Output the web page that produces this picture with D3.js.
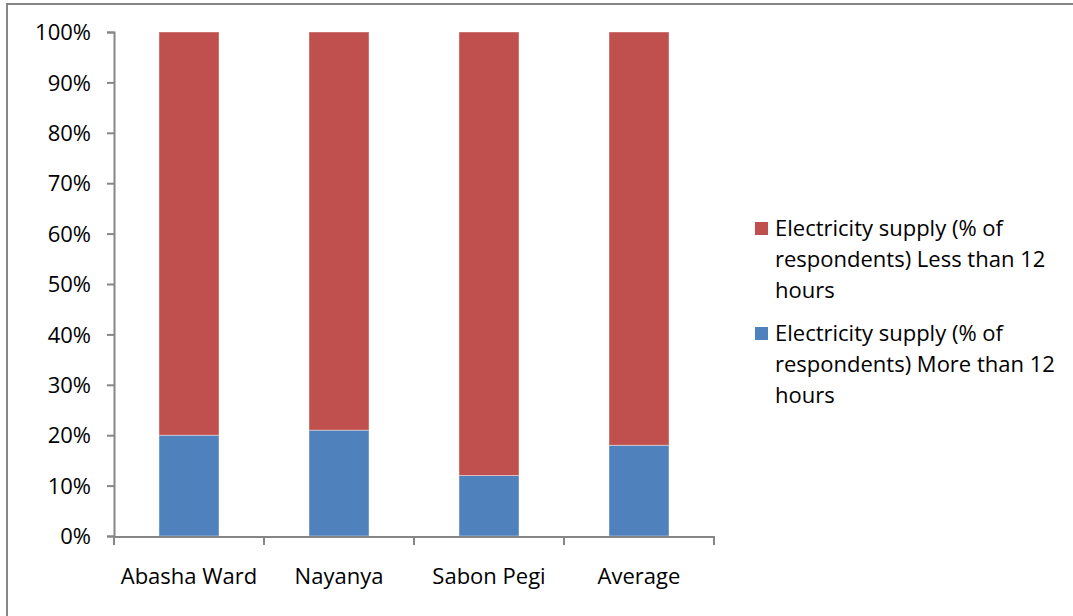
<!DOCTYPE html>
<html lang="en">
<head>
<meta charset="UTF-8">
<title>Electricity supply</title>
<script src="https://d3js.org/d3.v7.min.js"></script>
<style>
    body { margin: 0; background: #fff; }
    text { font-family: "Open Sans", "Noto Sans", sans-serif; fill: #000; }
    .axis path, .axis line { stroke: #868686; stroke-width: 2; }
    .axis text { font-size: 22px; }
    .legend text { font-size: 22px; }
</style>
</head>
<body>
<div id="chart"></div>
<script>
    // data
    const categories = ["Abasha Ward", "Nayanya", "Sabon Pegi", "Average"];
    const moreThan12 = [20, 21, 12, 18];
    const lessThan12 = [80, 79, 88, 82];
    const seriesNames = [
        ["Electricity supply (% of", "respondents) Less than 12", "hours"],
        ["Electricity supply (% of", "respondents) More than 12", "hours"]
    ];
    const seriesColors = ["#C0504D", "#4F81BD"];
    const yTicks = [0, 10, 20, 30, 40, 50, 60, 70, 80, 90, 100];

    const W = 1073, H = 616;
    const plot = { left: 114, right: 714, top: 32, bottom: 536 };

    const svg = d3.select("#chart").append("svg")
        .attr("width", W)
        .attr("height", H);

    // outer chart border (only top and left are inside the picture)
    svg.append("rect")
        .attr("x", 7).attr("y", 4)
        .attr("width", W + 20).attr("height", H + 20)
        .attr("fill", "none")
        .attr("stroke", "#878787")
        .attr("stroke-width", 2);

    const x = d3.scaleBand()
        .domain(categories)
        .range([plot.left, plot.right])
        .paddingInner(0.6)
        .paddingOuter(0.3);

    const y = d3.scaleLinear()
        .domain([0, 100])
        .range([plot.bottom, plot.top]);

    const rows = categories.map((c, i) => ({ cat: c, more: moreThan12[i], less: lessThan12[i] }));
    const stacked = d3.stack().keys(["more", "less"])(rows);

    svg.append("g")
        .selectAll("g")
        .data(stacked)
        .join("g")
        .attr("fill", d => d.key === "more" ? seriesColors[1] : seriesColors[0])
        .selectAll("rect")
        .data(d => d)
        .join("rect")
        .attr("x", d => x(d.data.cat))
        .attr("y", d => y(d[1]))
        .attr("width", x.bandwidth())
        .attr("height", d => y(d[0]) - y(d[1]))
        .attr("stroke", "#ffffff")
        .attr("stroke-opacity", 0.4)
        .attr("stroke-width", 1);

    // y axis
    const yAxis = svg.append("g")
        .attr("class", "axis")
        .attr("transform", `translate(${plot.left},0)`)
        .call(d3.axisLeft(y).tickValues(yTicks).tickFormat(d => d + "%").tickSize(7).tickSizeOuter(7).tickPadding(16));
    yAxis.selectAll("text").attr("dy", "0.35em");

    // x axis with ticks at category boundaries
    const step = x.step();
    const bounds = d3.range(categories.length + 1).map(i => plot.left + i * step);
    const xg = svg.append("g").attr("class", "axis");
    xg.append("line")
        .attr("x1", plot.left - 1).attr("x2", plot.right + 1)
        .attr("y1", plot.bottom + 1).attr("y2", plot.bottom + 1);
    xg.selectAll(".tk")
        .data(bounds)
        .join("line")
        .attr("class", "tk")
        .attr("x1", d => d).attr("x2", d => d)
        .attr("y1", plot.bottom + 1).attr("y2", plot.bottom + 9);
    xg.selectAll(".lbl")
        .data(categories)
        .join("text")
        .attr("class", "lbl")
        .attr("x", d => x(d) + x.bandwidth() / 2)
        .attr("y", 584)
        .attr("text-anchor", "middle")
        .text(d => d);

    // legend
    const legend = svg.append("g").attr("class", "legend");
    const legendTops = [228, 333];
    seriesNames.forEach((lines, i) => {
        const g = legend.append("g");
        g.append("rect")
            .attr("x", 755).attr("y", legendTops[i] - 6)
            .attr("width", 13).attr("height", 13)
            .attr("fill", seriesColors[i]);
        g.selectAll("text")
            .data(lines)
            .join("text")
            .attr("x", 775)
            .attr("y", (d, j) => legendTops[i] + j * 31)
            .attr("dy", "0.35em")
            .text(d => d);
    });
</script>
</body>
</html>
